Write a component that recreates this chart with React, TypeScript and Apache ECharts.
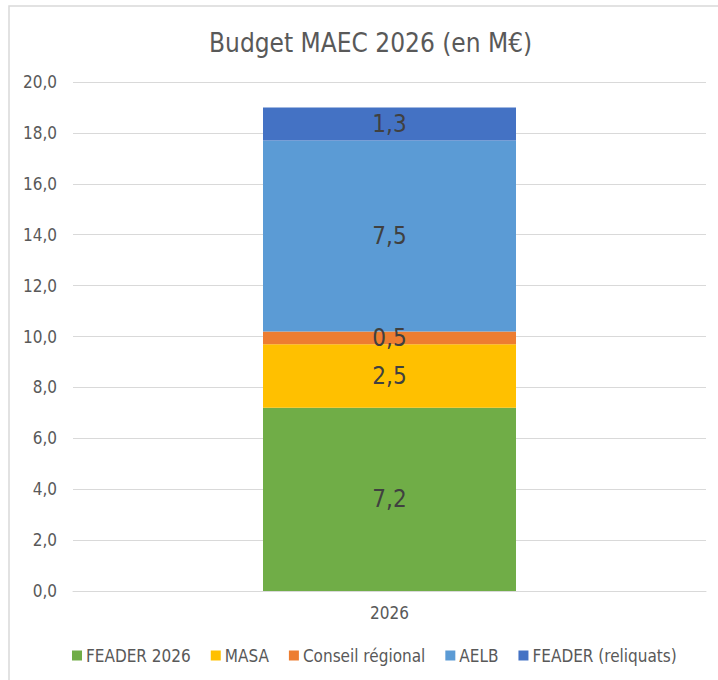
import React, { useEffect, useRef } from "react";
import * as echarts from "echarts";

const categories = ["2026"];
const seriesNames = ["FEADER 2026", "MASA", "Conseil régional", "AELB", "FEADER (reliquats)"];
const feader2026 = [7.2];
const masa = [2.5];
const conseilRegional = [0.5];
const aelb = [7.5];
const feaderReliquats = [1.3];
const colors = ["#70AD47", "#FFC000", "#ED7D31", "#5B9BD5", "#4472C4"];

const FONT = "'Liberation Sans Narrow', 'DejaVu Sans Condensed', sans-serif";
const fmt = (v: number) => v.toFixed(1).replace(".", ",");

export default function App() {
  const ref = useRef<HTMLDivElement>(null);
  useEffect(() => {
    if (!ref.current) return;
    const chart = echarts.init(ref.current, undefined, { renderer: "svg" });
    const data = [feader2026, masa, conseilRegional, aelb, feaderReliquats];
    chart.setOption({
      animation: false,
      backgroundColor: "#ffffff",
      title: {
        text: "Budget MAEC 2026 (en M€)",
        left: 204,
        top: 25,
        textStyle: { fontFamily: FONT, fontSize: 26, fontWeight: "normal", color: "#595959" },
      },
      graphic: [
        {
          type: "rect",
          shape: { x: 9, y: 6, width: 720, height: 690 },
          style: { fill: "none", stroke: "#D9D9D9", lineWidth: 1.5 },
          silent: true,
        },
      ],
      legend: {
        bottom: 11,
        left: 67,
        itemWidth: 10,
        itemHeight: 10,
        itemGap: 20,
        icon: "rect",
        textStyle: { fontFamily: FONT, fontSize: 17, color: "#595959", padding: [0, 0, 0, -1] },
        data: seriesNames,
      },
      grid: { left: 73, right: 12, top: 82, bottom: 89, containLabel: false },
      xAxis: {
        type: "category",
        data: categories,
        axisLine: { lineStyle: { color: "#D9D9D9", width: 1 } },
        axisTick: { show: false },
        axisLabel: { fontFamily: FONT, fontSize: 17, color: "#595959", margin: 13 },
      },
      yAxis: {
        type: "value",
        min: 0,
        max: 20,
        interval: 2,
        axisLine: { show: false },
        axisTick: { show: false },
        splitLine: { lineStyle: { color: "#D9D9D9", width: 1 } },
        axisLabel: {
          fontFamily: FONT,
          fontSize: 17,
          color: "#595959",
          margin: 16,
          formatter: (v: number) => fmt(v),
        },
      },
      series: seriesNames.map((name, i) => ({
        name,
        type: "bar",
        stack: "total",
        barWidth: 253,
        data: data[i],
        itemStyle: { color: colors[i] },
        label: {
          show: true,
          position: "inside",
          fontFamily: FONT,
          fontSize: 24,
          color: "#404040",
          formatter: (p: any) => fmt(p.value),
        },
      })),
    });
    return () => chart.dispose();
  }, []);
  return (
    <div
      ref={ref}
      style={{ position: "absolute", left: 0, top: 0, width: 718, height: 680 }}
    />
  );
}
